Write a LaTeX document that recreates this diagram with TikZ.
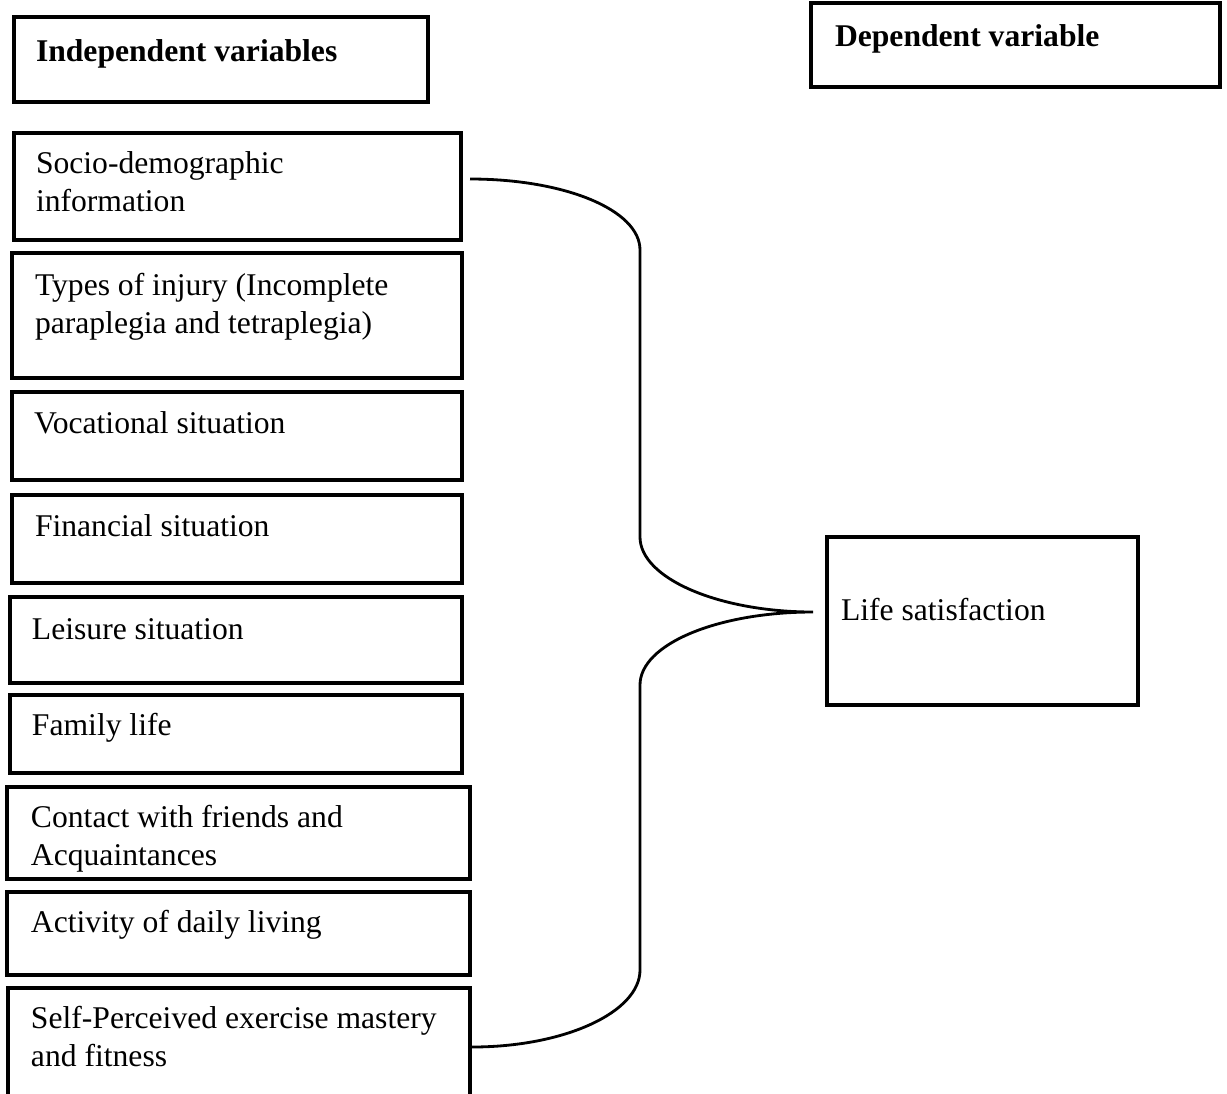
\documentclass[tikz,border=0pt]{standalone}
\usepackage{fontspec}
\setmainfont{Liberation Serif}
\usetikzlibrary{calc}
\newlength{\px}
\setlength{\px}{0.02cm}
% box text: width, height, left inset, first baseline, text
\newcommand{\cell}[5]{\parbox[t][#2\px][t]{#1\px}{\raggedright\leftskip=#3\px\rule{0pt}{#4\px}#5}}

\tikzset{
  varbox/.style={draw, line width=2pt, inner sep=0pt, outer sep=0pt,
    anchor=north west, font=\fontsize{18}{21.8}\selectfont},
  brace/.style={line width=1.6pt}
}

\begin{document}
\begin{tikzpicture}[x=0.02cm, y=-0.02cm]
\clip (0,0) rectangle (1227,1093);
% headers
\node[varbox] (indep) at (14,17) {\cell{414}{85}{22}{44}{\textbf{Independent variables}}};
\node[varbox] (dep) at (811,3) {\cell{409}{84}{24}{43}{\textbf{Dependent variable}}};
% independent variables
\node[varbox] (socio) at (14,133) {\cell{447}{107}{22}{40}{Socio-demographic\\information}};
\node[varbox] (injury) at (12,253) {\cell{450}{125}{23}{42}{Types of injury (Incomplete\\paraplegia and tetraplegia)}};
\node[varbox] (vocation) at (12,392) {\cell{450}{88}{22}{41}{Vocational situation}};
\node[varbox] (finance) at (12,495) {\cell{450}{88}{23}{41}{Financial situation}};
\node[varbox] (leisure) at (10,597) {\cell{452}{86}{22}{42}{Leisure situation}};
\node[varbox] (family) at (10,695) {\cell{452}{78}{22}{40}{Family life}};
\node[varbox] (contact) at (7,787) {\cell{463}{92}{24}{40}{Contact with friends and\\Acquaintances}};
\node[varbox] (daily) at (7,892) {\cell{463}{83}{24}{40}{Activity of daily living}};
\node[varbox] (self) at (8,988) {\cell{462}{115}{23}{40}{Self-Perceived exercise mastery\\and fitness}};
% dependent variable
\node[varbox] (life) at (827,537) {\cell{311}{168}{14}{83}{Life satisfaction}};
% brace
\coordinate (top) at ($(socio.north east)+(9,46)$);
\coordinate (tip) at ($(life.west)+(-14,-9)$);
\coordinate (bottom) at ($(self.north east)+(2,59)$);
\draw[brace] (top) .. controls +(95,0) and +(0,-40) .. ($(top)+(170,71)$)
  -- ($(tip)+(-173,-75)$) .. controls +(0,41) and +(-95,0) .. (tip)
  .. controls +(-95,0) and +(0,-41) .. ($(tip)+(-173,73)$)
  -- ($(bottom)+(168,-77)$) .. controls +(0,42) and +(93,0) .. (bottom);
\end{tikzpicture}
\end{document}
